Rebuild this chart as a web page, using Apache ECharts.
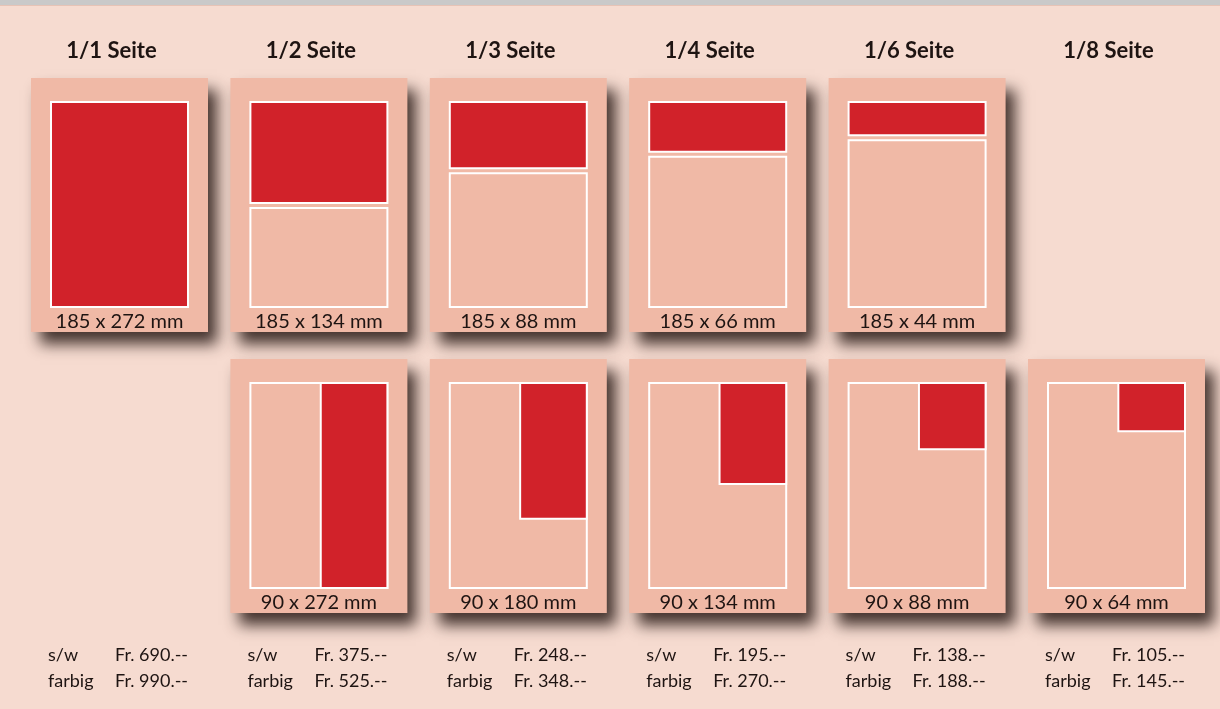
<!DOCTYPE html>
<html>
<head>
<meta charset="utf-8">
<script src="https://cdn.jsdelivr.net/npm/echarts@6/dist/echarts.min.js"></script>
<style>
  html, body { margin: 0; padding: 0; background: #f6dbd0; }
  #main { width: 1220px; height: 709px; }
</style>
</head>
<body>
<div id="main"></div>
<script>
// Seitenformate (Spalten)
let pages = ['1/1 Seite', '1/2 Seite', '1/3 Seite', '1/4 Seite', '1/6 Seite', '1/8 Seite'];
// obere Reihe: volle Breite 185 mm, Höhe in mm
let topWidth = 185;
let topHeights = [272, 134, 88, 66, 44];
// untere Reihe: Breite 90 mm, Höhe in mm (Spalte 1..5)
let bottomWidth = 90;
let bottomHeights = [272, 180, 134, 88, 64];
// Preise
let priceSw = [690, 375, 248, 195, 138, 105];
let priceFarbig = [990, 525, 348, 270, 188, 145];

let pageW = 185, pageH = 272;

let RED = '#d1222a';
let CARD = '#f0b9a6';
let TEXT = '#1e1412';
let FONT = 'Lato, "Noto Sans", sans-serif';

let colX = function (i) { return 31 + 199.4 * i; };
let cardW = 177, cardH = 254;
let rowY = [78, 359];
let innerDX = 20, innerDY = 24, innerW = 137, innerH = 205;

let myChart = echarts.init(document.getElementById('main'));

let grids = [], xAxes = [], yAxes = [], seriesArray = [], graphics = [];

// Hintergrund
graphics.push({ type: 'rect', shape: { x: 0, y: 0, width: 1220, height: 709 }, style: { fill: '#f6dbd0' }, z: -10 });
graphics.push({ type: 'rect', shape: { x: 0, y: 0, width: 1220, height: 5 }, style: { fill: '#c9c9c9' }, z: -9 });
graphics.push({ type: 'rect', shape: { x: 0, y: 5, width: 1220, height: 1 }, style: { fill: '#e6c3b6' }, z: -9 });

function addCard(col, row, w, h) {
    let x = colX(col), y = rowY[row];
    // Karte mit Schatten
    graphics.push({
        type: 'rect',
        shape: { x: x, y: y, width: cardW, height: cardH },
        style: {
            fill: CARD,
            shadowBlur: 14,
            shadowOffsetX: 9,
            shadowOffsetY: 12,
            shadowColor: 'rgba(50,34,30,0.9)'
        },
        z: 0
    });
    // Beschriftung
    graphics.push({
        type: 'text',
        x: x + cardW / 2,
        y: y + 244,
        style: {
            text: w + ' x ' + h + ' mm',
            fill: TEXT,
            font: '20px ' + FONT,
            align: 'center',
            verticalAlign: 'middle'
        },
        z: 5
    });

    let idx = grids.length;
    grids.push({ left: x + innerDX, top: y + innerDY, width: innerW, height: innerH, show: false });
    xAxes.push({ gridIndex: idx, type: 'value', min: 0, max: pageW, show: false });
    yAxes.push({ gridIndex: idx, type: 'value', min: 0, max: pageH, inverse: true, show: false });
    seriesArray.push({
        type: 'custom',
        xAxisIndex: idx,
        yAxisIndex: idx,
        z: 3,
        silent: true,
        data: [[w, h]],
        renderItem: function (params, api) {
            let aw = api.value(0), ah = api.value(1);
            let p0 = api.coord([0, 0]);
            let p1 = api.coord([pageW, pageH]);
            let children = [];
            let stroke = { stroke: '#ffffff', lineWidth: 2 };
            if (aw === pageW) {
                let pr = api.coord([pageW, ah]);
                children.push({
                    type: 'rect',
                    shape: { x: p0[0], y: p0[1], width: pr[0] - p0[0], height: pr[1] - p0[1] },
                    style: Object.assign({ fill: RED }, stroke)
                });
                if (ah < pageH) {
                    children.push({
                        type: 'rect',
                        shape: { x: p0[0], y: pr[1] + 5, width: p1[0] - p0[0], height: p1[1] - pr[1] - 5 },
                        style: Object.assign({ fill: CARD }, stroke)
                    });
                }
            } else {
                children.push({
                    type: 'rect',
                    shape: { x: p0[0], y: p0[1], width: p1[0] - p0[0], height: p1[1] - p0[1] },
                    style: Object.assign({ fill: CARD }, stroke)
                });
                let q0 = api.coord([pageW - aw, 0]);
                let q1 = api.coord([pageW, ah]);
                children.push({
                    type: 'rect',
                    shape: { x: q0[0], y: q0[1], width: q1[0] - q0[0], height: q1[1] - q0[1] },
                    style: Object.assign({ fill: RED }, stroke)
                });
            }
            return { type: 'group', children: children };
        }
    });
}

topHeights.forEach(function (h, i) { addCard(i, 0, topWidth, h); });
bottomHeights.forEach(function (h, i) { addCard(i + 1, 1, bottomWidth, h); });

// Titel und Preise
pages.forEach(function (title, i) {
    let x = colX(i);
    graphics.push({
        type: 'text',
        x: x + cardW / 2 - 8,
        y: 51,
        style: { text: title, fill: TEXT, font: 'bold 22px ' + FONT, align: 'center', verticalAlign: 'middle' }
    });
    graphics.push({
        type: 'text', x: x + 17, y: 655,
        style: { text: 's/w', fill: TEXT, font: '18px ' + FONT, verticalAlign: 'middle' }
    });
    graphics.push({
        type: 'text', x: x + 17, y: 681,
        style: { text: 'farbig', fill: TEXT, font: '18px ' + FONT, verticalAlign: 'middle' }
    });
    graphics.push({
        type: 'text', x: x + 84, y: 655,
        style: { text: 'Fr. ' + priceSw[i] + '.--', fill: TEXT, font: '18px ' + FONT, verticalAlign: 'middle' }
    });
    graphics.push({
        type: 'text', x: x + 84, y: 681,
        style: { text: 'Fr. ' + priceFarbig[i] + '.--', fill: TEXT, font: '18px ' + FONT, verticalAlign: 'middle' }
    });
});

let option = {
    animation: false,
    backgroundColor: '#f6dbd0',
    grid: grids,
    xAxis: xAxes,
    yAxis: yAxes,
    graphic: graphics,
    series: seriesArray
};

myChart.setOption(option);
</script>
</body>
</html>
